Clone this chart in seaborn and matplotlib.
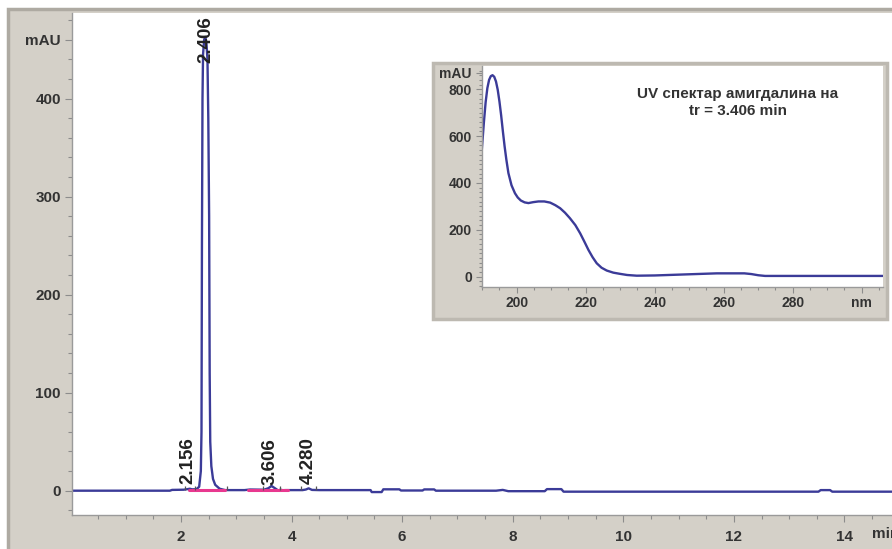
import pandas as pd
import seaborn as sns
import matplotlib.pyplot as plt
from matplotlib.patches import Rectangle
from matplotlib.ticker import MultipleLocator

# Chromatogram trace (min, mAU)
rt_min = [0.03, 1.80, 1.84, 2.05, 2.12, 2.16, 2.20, 2.28, 2.33, 2.36,
          2.372, 2.38, 2.39, 2.40, 2.42, 2.44, 2.46, 2.48, 2.495, 2.51,
          2.52, 2.53, 2.55, 2.58, 2.62, 2.70, 2.80, 3.15, 3.25, 3.50,
          3.58, 3.64, 3.70, 3.76, 3.80, 3.84, 3.90, 4.20, 4.26, 4.31,
          4.37, 4.50, 5.43, 5.45, 5.63, 5.66, 5.95, 5.98, 6.37, 6.40,
          6.58, 6.61, 7.70, 7.82, 7.92, 8.58, 8.62, 8.88, 8.92, 13.53,
          13.57, 13.74, 13.78, 14.86]
signal_mau = [0, 0, 0.8, 1.0, 1.6, 2.0, 1.4, 1.5, 4, 20,
              60, 250, 400, 445, 460, 463, 458, 440, 380, 280,
              120, 50, 25, 12, 6, 2, 0.6, 0.6, 1.2, 1.0,
              2.5, 4.8, 2.5, 0.2, 1.0, 0.5, 0.6, 0.6, 1.2, 2.4,
              0.8, 0.6, 0.6, -1.4, -1.4, 1.4, 1.4, 0.2, 0.2, 1.3,
              1.3, 0.0, 0.0, 0.8, -0.5, -0.5, 1.6, 1.6, -1.0, -1.0,
              0.6, 0.6, -1.0, -1.0]

# integration baselines (pink) and peak start/end marks
base1_t = [2.14, 2.80]
base2_t = [3.21, 3.93]
base_mau = [0.4, 0.4]
mark_t = [2.07, 2.25, 2.83, 3.49, 3.79, 4.18, 4.45]

# peak labels
peak_labels = ["2.156", "2.406", "3.606", "4.280"]
label_t = [2.12, 2.45, 3.61, 4.30]
label_mau = [7, 436, 6, 7]

# UV spectrum of the main peak (nm, mAU)
wl_nm = [189.9, 190.5, 191.0, 191.5, 192.0, 192.5, 193.0, 193.5, 194.0, 194.5,
         195.0, 195.5, 196.0, 196.5, 197.0, 197.6, 198.5, 199.5, 200.3, 201.2,
         202.3, 203.4, 204.8, 206.3, 208.0, 209.7, 211.2, 212.6, 214.0, 215.4,
         217.0, 218.4, 219.6, 220.8, 222.0, 223.2, 224.6, 226.1, 228.0, 229.9,
         232.0, 234.8, 240, 250, 258, 266, 268, 270, 272, 280, 306.1]
uv_mau = [544, 660, 745, 805, 840, 856, 860, 853, 833, 798,
          748, 688, 620, 556, 500, 442, 390, 356, 338, 325,
          317, 314, 318, 321, 321, 316, 305, 292, 273, 250,
          220, 185, 150, 114, 83, 57, 38, 26, 17, 12,
          7, 4, 5, 10, 14, 14, 11, 6, 3, 3, 3]

W, H = 892, 549
PANEL = "#d4d0c8"
EDGE = "#aeaaa2"
TRACE = "#3b3b98"
TXT = "#333333"


def fig_box(x0, y0, x1, y1):
    # pixel box (top-left origin) -> figure fraction [l, b, w, h]
    return [x0 / W, (H - y1) / H, (x1 - x0) / W, (y1 - y0) / H]


sns.set_theme(style="ticks")
plt.rcParams["font.family"] = ["Liberation Sans", "DejaVu Sans"]
plt.rcParams["font.weight"] = "bold"

fig = plt.figure(figsize=(8.92, 5.49), dpi=100, facecolor="white")

l, b, w, h = fig_box(8, 9, 900, 560)
fig.add_artist(Rectangle((l, b), w, h, transform=fig.transFigure,
                         facecolor=PANEL, edgecolor=EDGE, lw=2.5, zorder=-5))

# main chromatogram
ax = fig.add_axes(fig_box(72, 13, 892, 515), zorder=1)
ax.set_facecolor("white")
df = pd.DataFrame({"time": rt_min, "mAU": signal_mau})
sns.lineplot(data=df, x="time", y="mAU", ax=ax, color=TRACE, lw=1.7,
             estimator=None, sort=False, solid_joinstyle="round")
for bt in (base1_t, base2_t):
    sns.lineplot(x=bt, y=base_mau, ax=ax, color="#e8388f", lw=2.2,
                 estimator=None)
ax.vlines(mark_t, 0.5, 4.5, color="#555555", lw=0.9)

for txt, x, y in zip(peak_labels, label_t, label_mau):
    ax.text(x, y, txt, rotation=90, ha="center", va="bottom",
            fontsize=13.5, color="#222222", fontweight="bold")

ax.set_xlim(0.03, 14.86)
ax.set_ylim(-24.8, 487.4)
ax.set_xticks([2, 4, 6, 8, 10, 12, 14])
ax.xaxis.set_minor_locator(MultipleLocator(0.5))
ax.set_yticks([0, 100, 200, 300, 400, 460])
ax.set_yticklabels(["0", "100", "200", "300", "400", "mAU"])
ax.yaxis.set_minor_locator(MultipleLocator(20))
ax.set_xlabel("")
ax.set_ylabel("")
ax.tick_params(which="both", direction="out", color="#8c8c8c", width=0.8,
               labelsize=11, labelcolor=TXT)
ax.tick_params(axis="x", which="major", length=5, pad=6)
ax.tick_params(axis="y", which="major", length=5, pad=3)
ax.tick_params(which="minor", length=3)
# axis unit, cut by the right edge as in the source
ax.annotate("min", xy=(14.49, 0), xycoords=("data", "axes fraction"),
            xytext=(0, -8.5), textcoords="offset points", ha="left", va="top",
            fontsize=11, color=TXT, annotation_clip=False)
for side in ("top", "right"):
    ax.spines[side].set_visible(False)
for side in ("left", "bottom"):
    ax.spines[side].set_color("#9a9a9a")
    ax.spines[side].set_linewidth(1.0)

# inset panel with UV spectrum
l, b, w, h = fig_box(433, 63, 887, 319)
fig.add_artist(Rectangle((l, b), w, h, transform=fig.transFigure,
                         facecolor=PANEL, edgecolor="#bdb9b1", lw=2.5, zorder=2))

ins = fig.add_axes(fig_box(481.5, 66.3, 882.7, 286.7), zorder=3)
ins.set_facecolor("white")
spec = pd.DataFrame({"nm": wl_nm, "mAU": uv_mau})
sns.lineplot(data=spec, x="nm", y="mAU", ax=ins, color=TRACE, lw=1.7,
             estimator=None, sort=False, solid_joinstyle="round")
ins.text(264.1, 744, "UV спектар амигдалина на\ntr = 3.406 min",
         ha="center", va="center", fontsize=11, color=TXT, linespacing=1.3)
ins.set_xlim(189.8, 306.1)
ins.set_ylim(-43, 898)
ins.set_xticks([200, 220, 240, 260, 280, 300])
ins.set_xticklabels(["200", "220", "240", "260", "280", "nm"])
ins.xaxis.set_minor_locator(MultipleLocator(5))
ins.set_yticks([0, 200, 400, 600, 800, 870])
ins.set_yticklabels(["0", "200", "400", "600", "800", "mAU"])
ins.yaxis.set_minor_locator(MultipleLocator(20))
ins.set_xlabel("")
ins.set_ylabel("")
ins.tick_params(which="both", direction="out", color="#8c8c8c", width=0.8,
                labelsize=10, labelcolor=TXT)
ins.tick_params(which="major", length=4, pad=3)
ins.tick_params(which="minor", length=2.5)
for side in ("top", "right"):
    ins.spines[side].set_visible(False)
for side in ("left", "bottom"):
    ins.spines[side].set_color("#9a9a9a")
    ins.spines[side].set_linewidth(1.0)

fig.savefig("out.png", dpi=100, facecolor="white")
